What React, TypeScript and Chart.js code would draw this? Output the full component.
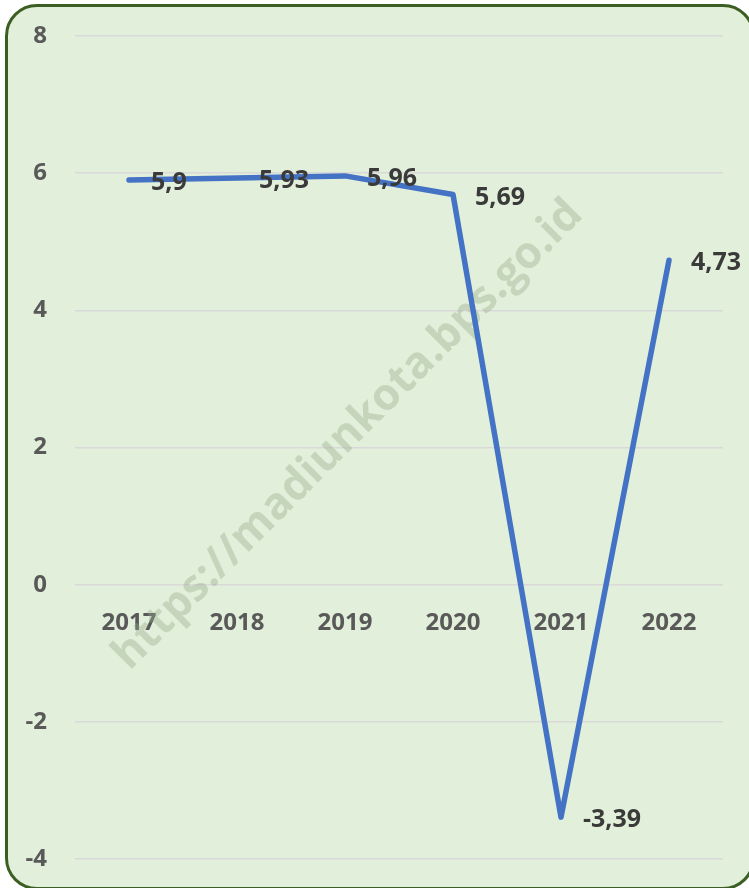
import React, { useEffect, useRef } from "react";
import { Chart, registerables } from "chart.js";

Chart.register(...registerables);

const years = ["2017", "2018", "2019", "2020", "2021", "2022"];
const growth = [5.9, 5.93, 5.96, 5.69, -3.39, 4.73];
const yTicks = { min: -4, max: 8, step: 2 };
const watermark = "https://madiunkota.bps.go.id";

const FONT = "'Open Sans', 'Noto Sans', sans-serif";

const labelPlugin = {
  id: "pointLabels",
  afterDatasetsDraw(chart: any) {
    const ctx = chart.ctx;
    const meta = chart.getDatasetMeta(0);
    ctx.save();
    ctx.font = `bold 25px ${FONT}`;
    ctx.fillStyle = "#3A3A3A";
    ctx.textAlign = "left";
    ctx.textBaseline = "middle";
    meta.data.forEach((pt: any, i: number) => {
      const txt = String(growth[i]).replace(".", ",");
      ctx.fillText(txt, pt.x + 22, pt.y + 3);
    });
    ctx.restore();
  },
};

const watermarkPlugin = {
  id: "watermark",
  beforeDatasetsDraw(chart: any) {
    const ctx = chart.ctx;
    ctx.save();
    ctx.translate(348, 435);
    ctx.rotate(-Math.PI / 4);
    ctx.font = `bold 44px ${FONT}`;
    ctx.fillStyle = "rgba(150,170,140,0.38)";
    ctx.textAlign = "center";
    ctx.textBaseline = "middle";
    ctx.fillText(watermark, 0, 0);
    ctx.restore();
  },
};

export default function App() {
  const ref = useRef<HTMLCanvasElement | null>(null);
  useEffect(() => {
    if (!ref.current) return;
    const chart = new Chart(ref.current, {
      type: "line",
      data: {
        labels: years,
        datasets: [
          {
            data: growth,
            borderColor: "#4472C4",
            borderWidth: 5.5,
            pointRadius: 0,
            tension: 0,
            borderCapStyle: "round",
            borderJoinStyle: "round",
            fill: false,
          },
        ],
      },
      options: {
        responsive: false,
        animation: false,
        layout: { padding: { left: 0, top: 36, right: 26, bottom: 29 } },
        plugins: { legend: { display: false }, tooltip: { enabled: false } },
        scales: {
          x: {
            position: { y: 0 } as any,
            offset: true,
            afterFit: (s: any) => {
              s.paddingLeft = 0;
              s.paddingRight = 0;
            },
            grid: { display: false, drawTicks: false },
            border: { display: false },
            ticks: {
              color: "#595959",
              font: { family: FONT, size: 24, weight: "bold" },
              padding: 24,
              maxRotation: 0,
            },
          },
          y: {
            min: yTicks.min,
            max: yTicks.max,
            afterFit: (s: any) => {
              s.width = 75;
              s.paddingTop = 0;
              s.paddingBottom = 0;
            },
            grid: { color: "#D9D9D9", lineWidth: 1.5, drawTicks: false },
            border: { display: false },
            ticks: {
              stepSize: yTicks.step,
              color: "#595959",
              font: { family: FONT, size: 24, weight: "bold" },
              padding: 28,
            },
          },
        },
      },
      plugins: [watermarkPlugin, labelPlugin],
    });
    return () => chart.destroy();
  }, []);

  return (
    <div style={{ position: "absolute", left: 0, top: 0, width: 749, height: 888, overflow: "hidden" }}>
      <div
        style={{
          position: "absolute",
          left: 5,
          top: 4,
          width: 750,
          height: 886,
          boxSizing: "border-box",
          border: "3px solid #3B5E22",
          borderRadius: 32,
          background: "#E2EFDA",
        }}
      />
      <canvas ref={ref} width={749} height={888} style={{ position: "absolute", left: 0, top: 0 }} />
    </div>
  );
}
